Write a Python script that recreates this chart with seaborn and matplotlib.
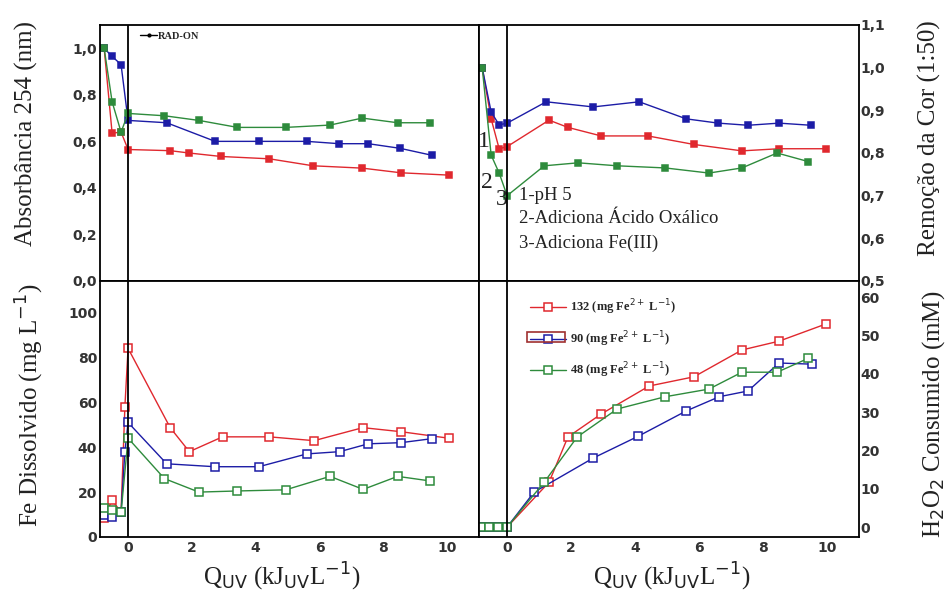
import matplotlib
matplotlib.use('Agg')
import matplotlib.pyplot as plt
import seaborn as sns
from matplotlib.ticker import FuncFormatter, MultipleLocator
from matplotlib.lines import Line2D
from matplotlib.patches import Rectangle

# series (mg Fe2+ L-1)
series = ['132', '90', '48']
colors = ['#e0282e', '#1c1ca6', '#2e8b3c']

# Absorbância 254 (nm)
abs_x_132 = [-0.75, -0.5, -0.22, 0.0, 1.32, 1.91, 2.92, 4.43, 5.8, 7.34, 8.55, 10.05]
abs_y_132 = [1.0, 0.635, 0.64, 0.565, 0.56, 0.55, 0.535, 0.525, 0.495, 0.485, 0.465, 0.455]
abs_x_90 = [-0.75, -0.5, -0.22, 0.0, 1.21, 2.73, 4.1, 5.6, 6.62, 7.53, 8.53, 9.53]
abs_y_90 = [1.0, 0.965, 0.93, 0.69, 0.68, 0.60, 0.60, 0.60, 0.59, 0.59, 0.57, 0.54]
abs_x_48 = [-0.75, -0.5, -0.22, 0.0, 1.14, 2.22, 3.43, 4.94, 6.33, 7.34, 8.45, 9.45]
abs_y_48 = [1.0, 0.77, 0.64, 0.72, 0.71, 0.69, 0.66, 0.66, 0.67, 0.70, 0.68, 0.68]

# Remoção da Cor (1:50)
cor_x_132 = [-0.78, -0.5, -0.25, 0.0, 1.31, 1.9, 2.94, 4.4, 5.84, 7.34, 8.5, 9.97]
cor_y_132 = [1.0, 0.88, 0.81, 0.815, 0.877, 0.86, 0.84, 0.84, 0.82, 0.805, 0.81, 0.81]
cor_x_90 = [-0.78, -0.5, -0.25, 0.0, 1.22, 2.69, 4.13, 5.6, 6.6, 7.53, 8.5, 9.5]
cor_y_90 = [1.0, 0.896, 0.866, 0.87, 0.92, 0.908, 0.92, 0.88, 0.87, 0.865, 0.87, 0.865]
cor_x_48 = [-0.78, -0.5, -0.25, 0.0, 1.16, 2.22, 3.44, 4.94, 6.31, 7.34, 8.44, 9.41]
cor_y_48 = [1.0, 0.795, 0.753, 0.70, 0.77, 0.777, 0.77, 0.765, 0.753, 0.765, 0.80, 0.78]

# Fe Dissolvido (mg L-1)
fe_x_132 = [-0.75, -0.5, -0.22, -0.1, 0.0, 1.32, 1.92, 2.96, 4.43, 5.83, 7.36, 8.55, 10.05]
fe_y_132 = [8.5, 16.5, 11, 58, 84, 48.7, 38, 44.6, 44.6, 42.9, 48.7, 46.9, 44]
fe_x_90 = [-0.75, -0.5, -0.22, -0.1, 0.0, 1.21, 2.72, 4.1, 5.6, 6.63, 7.53, 8.55, 9.53]
fe_y_90 = [10, 9, 11, 38, 51, 32.6, 31.3, 31.3, 37, 38, 41.5, 42, 43.8]
fe_x_48 = [-0.75, -0.5, -0.22, 0.0, 1.14, 2.22, 3.43, 4.94, 6.33, 7.37, 8.45, 9.45]
fe_y_48 = [13, 12, 11, 44, 26, 20, 20.5, 21, 27, 21.2, 27, 25]

# H2O2 Consumido (mM)
h2o2_x_132 = [-0.81, -0.56, -0.28, 0.0, 1.31, 1.9, 2.94, 4.44, 5.84, 7.34, 8.5, 9.97]
h2o2_y_132 = [0, 0, 0, 0, 11.7, 23.5, 29.5, 36.8, 39.2, 46.2, 48.5, 53]
h2o2_x_90 = [-0.81, -0.56, -0.28, 0.0, 0.84, 2.69, 4.1, 5.6, 6.63, 7.53, 8.5, 9.53]
h2o2_y_90 = [0, 0, 0, 0, 9.1, 18, 23.7, 30.3, 34, 35.5, 42.8, 42.5]
h2o2_x_48 = [-0.81, -0.56, -0.28, 0.0, 1.16, 2.19, 3.44, 4.94, 6.31, 7.34, 8.44, 9.41]
h2o2_y_48 = [0, 0, 0, 0, 11.7, 23.5, 30.8, 34, 36, 40.4, 40.4, 44]

sns.set_style('white')
plt.rcParams['font.family'] = ['Liberation Serif', 'DejaVu Serif']

W, H = 948, 594
fig = plt.figure(figsize=(W / 100, H / 100), dpi=100)


def box(x0, y0, x1, y1):
    return [x0 / W, 1 - y1 / H, (x1 - x0) / W, (y1 - y0) / H]


ax_tl = fig.add_axes(box(100, 25, 479, 281))
ax_tr = fig.add_axes(box(479, 25, 859, 281))
ax_bl = fig.add_axes(box(100, 281, 479, 537))
ax_br = fig.add_axes(box(479, 281, 859, 537))


def draw(ax, xs, ys, hollow):
    for x, y, c in zip(xs, ys, colors):
        sns.lineplot(x=x, y=y, ax=ax, color=c, lw=1.0, marker='s',
                     ms=5.5 if hollow else 4.5, mec=c, mew=1.1,
                     mfc='white' if hollow else c,
                     sort=False, estimator=None, legend=False)


draw(ax_tl, [abs_x_132, abs_x_90, abs_x_48], [abs_y_132, abs_y_90, abs_y_48], False)
draw(ax_tr, [cor_x_132, cor_x_90, cor_x_48], [cor_y_132, cor_y_90, cor_y_48], False)
draw(ax_bl, [fe_x_132, fe_x_90, fe_x_48], [fe_y_132, fe_y_90, fe_y_48], True)
draw(ax_br, [h2o2_x_132, h2o2_x_90, h2o2_x_48], [h2o2_y_132, h2o2_y_90, h2o2_y_48], True)

comma = FuncFormatter(lambda v, p: f'{v:.1f}'.replace('.', ','))
tick_font = dict(family='DejaVu Sans', weight='bold', size=10)

for ax in [ax_tl, ax_tr, ax_bl, ax_br]:
    ax.set_xlim(-0.88, 11.0)
    ax.xaxis.set_major_locator(MultipleLocator(2))
    ax.axvline(0, color='black', lw=1.3, zorder=5)
    ax.set_xlabel('')
    ax.set_ylabel('')
    for s in ax.spines.values():
        s.set_color('black')
        s.set_linewidth(1.3)
    ax.tick_params(length=0, pad=2, colors='#333333')

ax_tl.set_ylim(0, 1.1)
ax_tl.yaxis.set_major_locator(MultipleLocator(0.2))
ax_tl.yaxis.set_major_formatter(comma)
ax_tr.set_ylim(0.5, 1.1)
ax_tr.yaxis.set_major_locator(MultipleLocator(0.1))
ax_tr.yaxis.set_major_formatter(comma)
ax_bl.set_ylim(0, 114)
ax_bl.yaxis.set_major_locator(MultipleLocator(20))
ax_br.set_ylim(-2.6, 64.2)
ax_br.yaxis.set_major_locator(MultipleLocator(10))

for ax in [ax_tr, ax_br]:
    ax.yaxis.tick_right()
    ax.tick_params(axis='y', pad=1)
for ax in [ax_tl, ax_tr]:
    ax.set_xticklabels([])
for ax in [ax_bl, ax_br]:
    ax.set_xticks([0, 2, 4, 6, 8, 10])
    ax.tick_params(axis='x', pad=3)

for ax in [ax_tl, ax_tr, ax_bl, ax_br]:
    for lab in ax.get_xticklabels() + ax.get_yticklabels():
        lab.set(**tick_font)

# axis titles
lab_kw = dict(fontsize=18, color='#222222', ha='center', va='center')
fig.text(26 / W, 1 - 133 / H, 'Absorbância 254 (nm)', rotation=90, **lab_kw)
fig.text(30 / W, 1 - 405 / H, r'Fe Dissolvido (mg L$^{-1}$)', rotation=90, **lab_kw)
fig.text(929 / W, 1 - 138 / H, 'Remoção da Cor (1:50)', rotation=90, **lab_kw)
fig.text(934 / W, 1 - 414 / H, r'H$_2$O$_2$ Consumido (mM)', rotation=90, **lab_kw)
xl = r'Q$_{\mathrm{UV}}$ (kJ$_{\mathrm{UV}}$L$^{-1}$)'
fig.text(282 / W, 1 - 577 / H, xl, **lab_kw)
fig.text(672 / W, 1 - 577 / H, xl, **lab_kw)

# RAD-ON marker
ax_tl.legend([Line2D([], [], color='black', lw=1, marker='.', ms=4)], ['RAD-ON'],
             loc='upper left', bbox_to_anchor=(0.095, 0.99), frameon=False,
             handlelength=1.6, handletextpad=0.1, borderaxespad=0,
             prop=dict(family='Liberation Serif', weight='bold', size=7.5))

# step annotations
ax_tr.text(-0.72, 0.826, '1', fontsize=17, ha='center', va='center', color='#222222')
ax_tr.text(-0.62, 0.732, '2', fontsize=17, ha='center', va='center', color='#222222')
ax_tr.text(-0.16, 0.69, '3', fontsize=17, ha='center', va='center', color='#222222')
ax_tr.text(0.36, 0.70, '1-pH 5', fontsize=13.5, va='center', color='#222222')
ax_tr.text(0.36, 0.646, '2-Adiciona Ácido Oxálico', fontsize=13.5, va='center', color='#222222')
ax_tr.text(0.36, 0.589, '3-Adiciona Fe(III)', fontsize=13.5, va='center', color='#222222')

# concentration legend
handles = [Line2D([], [], color=c, lw=1, marker='s', ms=6, mfc='white', mec=c, mew=1.1)
           for c in colors]
labels = [s + r' (mg Fe$^{2+}$ L$^{-1}$)' for s in series]
ax_br.legend(handles, labels, loc='upper left', bbox_to_anchor=(0.12, 0.955),
             frameon=False, handlelength=2.9, handletextpad=0.3, labelspacing=0.95,
             borderaxespad=0, prop=dict(family='Liberation Serif', weight='bold', size=9))
ax_br.add_patch(Rectangle((0.126, 0.762), 0.1, 0.039, transform=ax_br.transAxes,
                          fill=False, edgecolor='#a03030', lw=1.2, zorder=6))

fig.savefig('out.png', dpi=100)
